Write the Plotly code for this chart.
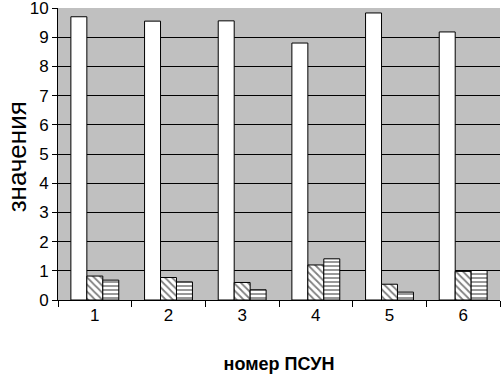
import plotly.graph_objects as go

categories = ["1", "2", "3", "4", "5", "6"]
series_white = [9.70, 9.55, 9.56, 8.80, 9.83, 9.18]
series_diag = [0.82, 0.77, 0.60, 1.20, 0.54, 0.98]
series_horiz = [0.68, 0.62, 0.35, 1.41, 0.27, 1.01]
y_ticks = list(range(0, 11))

fig = go.Figure()
fig.add_trace(go.Bar(x=categories, y=series_white, marker=dict(color="white", line=dict(color="black", width=1))))
fig.add_trace(go.Bar(x=categories, y=series_diag, marker=dict(color="white", line=dict(color="black", width=1),
                     pattern=dict(shape="\\", fgcolor="black", bgcolor="white", size=5, solidity=0.35))))
fig.add_trace(go.Bar(x=categories, y=series_horiz, marker=dict(color="white", line=dict(color="black", width=1),
                     pattern=dict(shape="-", fgcolor="black", bgcolor="white", size=4, solidity=0.4))))

fig.update_layout(
    width=502, height=374,
    margin=dict(l=58, r=2, t=8, b=74),
    plot_bgcolor="#c0c0c0", paper_bgcolor="white",
    barmode="group", bargap=0.35, bargroupgap=0,
    showlegend=False,
    font=dict(family="Liberation Sans, Arial, sans-serif", color="black", size=16),
    xaxis=dict(type="category", tickson="boundaries", ticks="outside", ticklen=6, tickcolor="black",
               showline=True, linecolor="black", linewidth=1, showgrid=False, automargin=False,
               title=dict(text="<b>номер ПСУН</b>", font=dict(size=18), standoff=33),
               tickfont=dict(size=17)),
    yaxis=dict(range=[0, 10], tickvals=y_ticks, ticks="outside", ticklen=5, tickcolor="black",
               showline=True, linecolor="black", linewidth=1, showgrid=True, gridcolor="black", gridwidth=1,
               zeroline=False, automargin=False, ticklabeloverflow="allow",
               tickfont=dict(size=17)),
    annotations=[dict(text="значения", textangle=-90, font=dict(size=26),
                      xref="paper", yref="paper", x=-0.094, y=0.49,
                      xanchor="center", yanchor="middle", showarrow=False)],
)
fig.write_html("out.html", config={"displayModeBar": False},
               post_script="document.body.style.margin='0';document.body.style.padding='0';")
